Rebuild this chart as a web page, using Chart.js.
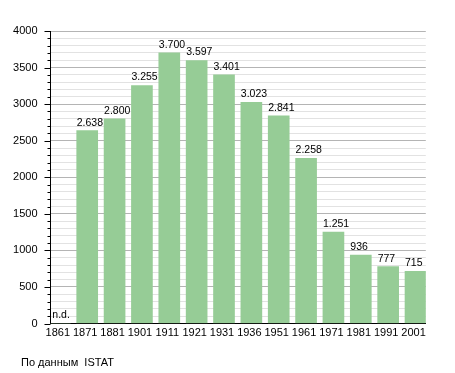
<!DOCTYPE html>
<html>
<head>
<meta charset="utf-8">
<script src="https://cdn.jsdelivr.net/npm/chart.js@4"></script>
<style>
html,body{margin:0;padding:0;background:#fff;}
#wrap{position:relative;width:455px;height:373px;}
#src{position:absolute;left:21px;top:356px;font:11px "Liberation Sans",Arial,sans-serif;color:#000;white-space:pre;}
</style>
</head>
<body>
<div id="wrap">
<canvas id="c" width="455" height="373"></canvas>
<div id="src">По данным  ISTAT</div>
</div>
<script>
const years = ["1861","1871","1881","1901","1911","1921","1931","1936","1951","1961","1971","1981","1991","2001"];
const population = [null,2638,2800,3255,3700,3597,3401,3023,2841,2258,1251,936,777,715];
const yTickLabels = [0,500,1000,1500,2000,2500,3000,3500,4000];
const missingLabel = "n.d.";

const FONT = '"Liberation Sans", Arial, sans-serif';
const fmt = v => String(v).replace(/\B(?=(\d{3})+(?!\d))/g, '.');

const points = years.map((y,i)=>({x:i, y: population[i] === null ? 0 : population[i]}));

const labelsPlugin = {
  id:'labels',
  afterDatasetsDraw(chart){
    const ctx = chart.ctx;
    const meta = chart.getDatasetMeta(0);
    ctx.save();
    ctx.font = '10.5px ' + FONT;
    ctx.fillStyle = '#000';
    ctx.textAlign = 'left';
    ctx.textBaseline = 'alphabetic';
    meta.data.forEach((bar,i)=>{
      const v = population[i];
      const left = bar.x - bar.width/2;
      if (v === null) {
        ctx.fillText(missingLabel, left + 3, bar.base - 6);
      } else {
        ctx.fillText(fmt(v), left, bar.y - 5);
      }
    });
    ctx.restore();
  }
};

const yTicksPlugin = {
  id:'yticks',
  afterDraw(chart){
    const s = chart.scales.y;
    const ctx = chart.ctx;
    const x0 = chart.chartArea.left;
    ctx.save();
    ctx.strokeStyle = '#000';
    ctx.lineWidth = 1;
    s.ticks.forEach(t=>{
      const py = Math.round(s.getPixelForValue(t.value)) + 0.5;
      const len = yTickLabels.includes(t.value) ? 6 : 3;
      ctx.beginPath();
      ctx.moveTo(x0 - len, py);
      ctx.lineTo(x0, py);
      ctx.stroke();
    });
    ctx.restore();
  }
};

new Chart(document.getElementById('c'), {
  type:'bar',
  data:{
    datasets:[{
      data: points,
      backgroundColor:'rgb(150,204,150)',
      borderWidth:0,
      barThickness:21
    }]
  },
  options:{
    responsive:false,
    animation:false,
    events:[],
    layout:{padding:{top:31,left:0,right:29.2,bottom:0}},
    plugins:{legend:{display:false},tooltip:{enabled:false},title:{display:false}},
    scales:{
      x:{
        type:'linear',
        offset:false,
        min:-0.342,
        max:13.376,
        grid:{display:false,drawTicks:false,offset:false},
        border:{display:true,color:'#000',width:1},
        afterBuildTicks(s){ s.ticks = years.map((y,i)=>({value:i})); },
        afterFit(s){ s.height = 49.5; },
        ticks:{
          autoSkip:false,
          maxRotation:0,
          padding:3,
          labelOffset:-2,
          color:'#000',
          font:{family:FONT,size:11},
          callback:(v)=>years[v]
        }
      },
      y:{
        min:0,
        max:4000,
        afterBuildTicks(s){
          const t=[]; for(let v=0; v<=4000; v+=100) t.push({value:v}); s.ticks=t;
        },
        afterFit(s){ s.width = 50.5; },
        grid:{
          drawTicks:false,
          color:(c)=> (c.tick && c.tick.value % 500 === 0) ? '#b4b4b4' : '#e2e2e2',
          lineWidth:1
        },
        border:{display:true,color:'#000',width:1},
        ticks:{
          autoSkip:false,
          padding:13,
          color:'#000',
          font:{family:FONT,size:11},
          callback:(v)=> yTickLabels.includes(v) ? String(v) : ''
        }
      }
    }
  },
  plugins:[labelsPlugin,yTicksPlugin]
});
</script>
</body>
</html>
